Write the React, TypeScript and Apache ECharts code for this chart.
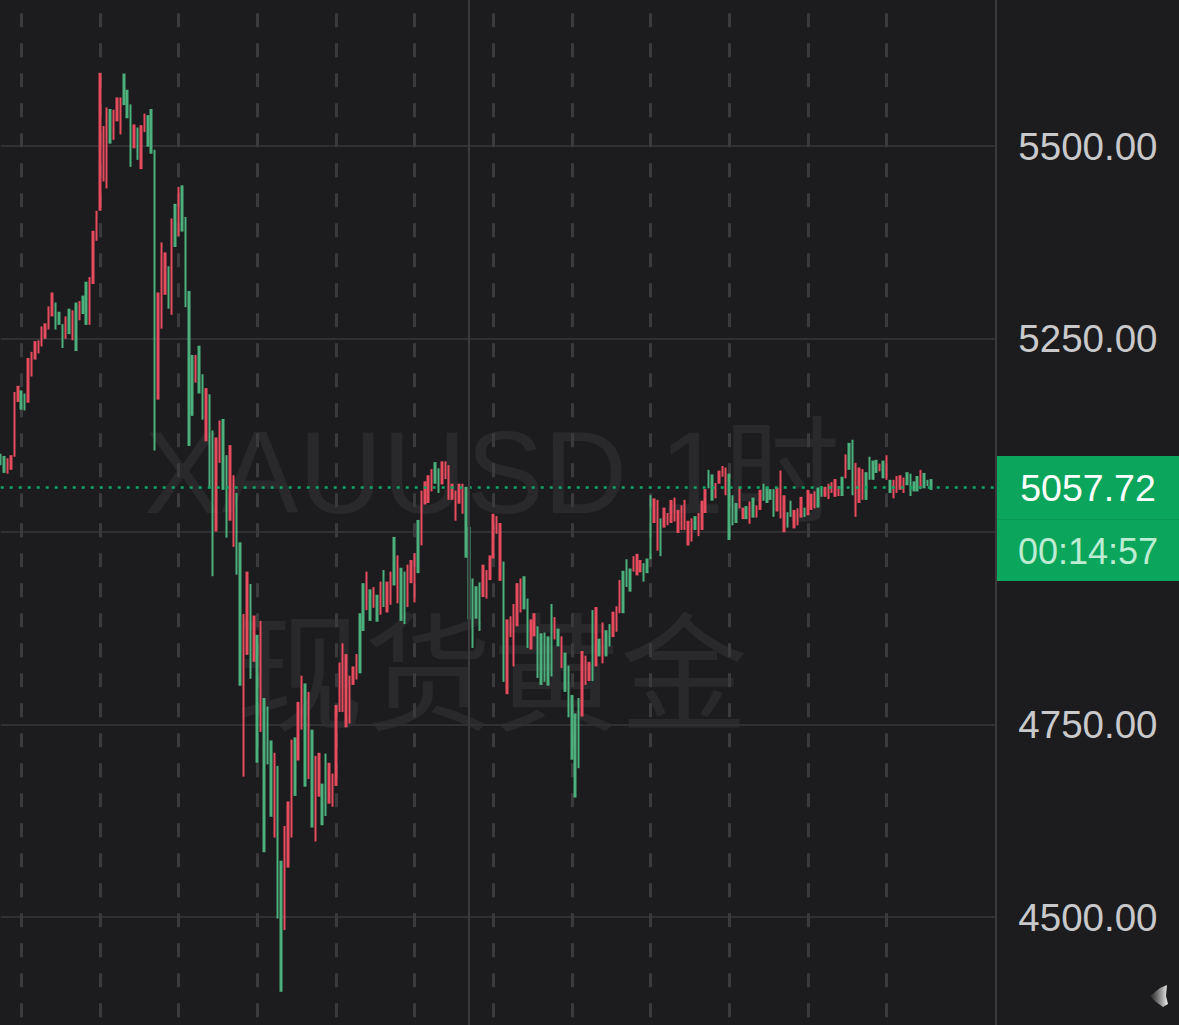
import React, { useEffect, useRef } from 'react';
import * as echarts from 'echarts';

// highest price of each hourly bar
const barHighs = [
    5101, 5098, 5095, 5099, 5181, 5189, 5183, 5179, 5225, 5233, 5247, 5248, 5266, 5270, 5292, 5310, 5297, 5285, 5269, 5279,
    5289, 5287, 5297, 5299, 5306, 5324, 5330, 5390, 5416, 5595, 5526, 5550, 5548, 5547, 5563, 5563, 5594, 5573, 5554, 5528,
    5524, 5527, 5542, 5540, 5548, 5495, 5310, 5375, 5362, 5344, 5406, 5425, 5447, 5449, 5408, 5312, 5229, 5229, 5241, 5204,
    5186, 5178, 5131, 5122, 5144, 5146, 5099, 5112, 5073, 5050, 4986, 4893, 4948, 4932, 4891, 4866, 4884, 4784, 4773, 4729,
    4713, 4696, 4573, 4618, 4650, 4730, 4733, 4779, 4813, 4803, 4792, 4743, 4709, 4713, 4673, 4712, 4700, 4686, 4775, 4830,
    4855, 4841, 4813, 4825, 4841, 4894, 4933, 4948, 4925, 4928, 4918, 4935, 4950, 4935, 4948, 4993, 4969, 4953, 4948, 4957,
    4963, 4972, 5015, 5053, 5065, 5073, 5081, 5090, 5082, 5091, 5091, 5086, 5062, 5053, 5062, 5062, 5058, 5006, 4939, 4929,
    4934, 4957, 4950, 4969, 5023, 5020, 5011, 4961, 4886, 4890, 4906, 4933, 4939, 4942, 4913, 4886, 4894, 4877, 4868, 4869,
    4864, 4906, 4889, 4874, 4864, 4843, 4826, 4788, 4764, 4784, 4845, 4839, 4831, 4898, 4902, 4861, 4882, 4872, 4880, 4896,
    4903, 4937, 4949, 4964, 4952, 4968, 4971, 4963, 4959, 4965, 5047, 5043, 5041, 5017, 5031, 5024, 5041, 5044, 5028, 5034,
    5041, 5014, 5017, 5020, 5024, 5040, 5055, 5080, 5074, 5063, 5079, 5085, 5083, 5075, 5047, 5037, 5058, 5031, 5033, 5039,
    5044, 5034, 5054, 5062, 5058, 5055, 5055, 5057, 5079, 5047, 5025, 5040, 5028, 5030, 5045, 5031, 5054, 5049, 5052, 5057,
    5059, 5058, 5062, 5064, 5068, 5059, 5071, 5100, 5115, 5119, 5089, 5083, 5081, 5077, 5097, 5092, 5093, 5088, 5092, 5099,
    5067, 5067, 5072, 5073, 5070, 5077, 5075, 5065, 5072, 5080, 5076, 5067, 5068
];

// lowest price of each bar
const barLows = [
    5086, 5076, 5075, 5080, 5097, 5168, 5158, 5157, 5167, 5201, 5223, 5231, 5240, 5250, 5262, 5279, 5262, 5268, 5238, 5250,
    5256, 5248, 5234, 5274, 5282, 5268, 5268, 5321, 5377, 5416, 5454, 5445, 5503, 5508, 5532, 5515, 5553, 5536, 5473, 5497,
    5482, 5470, 5518, 5499, 5490, 5105, 5171, 5263, 5307, 5289, 5281, 5369, 5383, 5389, 5291, 5111, 5150, 5193, 5179, 5145,
    5117, 5056, 4942, 5000, 5089, 5054, 4992, 5014, 4980, 4944, 4800, 4682, 4840, 4809, 4831, 4700, 4740, 4584, 4698, 4630,
    4603, 4498, 4403, 4483, 4564, 4603, 4657, 4703, 4743, 4669, 4679, 4616, 4598, 4656, 4619, 4631, 4647, 4643, 4670, 4766,
    4766, 4746, 4751, 4801, 4808, 4816, 4871, 4898, 4884, 4901, 4883, 4892, 4902, 4895, 4905, 4930, 4907, 4884, 4880, 4902,
    4933, 4908, 4946, 4982, 5035, 5037, 5052, 5062, 5050, 5061, 5068, 5041, 5041, 5014, 5036, 5023, 4966, 4886, 4849, 4887,
    4871, 4915, 4913, 4937, 4965, 4997, 4936, 4805, 4789, 4863, 4825, 4877, 4895, 4899, 4849, 4847, 4864, 4810, 4801, 4805,
    4800, 4812, 4860, 4851, 4823, 4792, 4759, 4704, 4655, 4693, 4760, 4801, 4806, 4806, 4825, 4838, 4829, 4838, 4851, 4863,
    4870, 4894, 4894, 4928, 4922, 4948, 4943, 4947, 4935, 4946, 4964, 5011, 4975, 4968, 5005, 5008, 5011, 5013, 4998, 5002,
    5002, 4982, 4987, 5002, 4994, 5002, 5024, 5056, 5040, 5043, 5062, 5071, 5047, 4989, 5008, 5011, 5030, 5016, 5016, 5010,
    5018, 5018, 5028, 5040, 5037, 5041, 5019, 5026, 5017, 4999, 5005, 5019, 5004, 5008, 5018, 5019, 5021, 5028, 5030, 5031,
    5045, 5045, 5042, 5050, 5045, 5046, 5046, 5069, 5080, 5047, 5019, 5037, 5041, 5041, 5067, 5067, 5076, 5078, 5069, 5067,
    5050, 5043, 5050, 5054, 5050, 5060, 5046, 5052, 5052, 5055, 5056, 5059, 5054
];

// R = rising bar, G = falling bar
const barDirections = [
    'GGRRRRGGRRRRRRRRGGGR', 'GRGRGGRRRRRRGRRRGGGR', 'GRRGGGRRRGRGRGGGGRGG', 'RGGRRGGRRGGRRGRGRGGG',
    'RGGRRRGRRGRGRRGGRRRR', 'RRRRRGGRGRGRGRRGRGGR', 'RRGRRRRGGRRRRRRRGGGG', 'GRRRRRRGRRRRRGGRRGGG',
    'GGRGRGGGGGRRRGRGRGGR', 'RRGGGRRRGGGRRGRRRRRR', 'RRRGRRRGGRRRRGGGRRGR', 'GRRGGGGRRRGGRRRGRRRG',
    'GRRRRRGRGGRRRGGGGRGR', 'GRRRRGGGGRGGGGRRRRGG', 'RRRGRRGRRRGGR'
].join('');

const lastPrice = 5057.72;
const countdown = '00:14:57';
const tickValues = [4250, 4500, 4750, 5000, 5250, 5500, 5750];
const tickLabels = ['4500.00', '4750.00', '5250.00', '5500.00'];
const slotCount = 292;
const dayStarts = [6, 29, 52, 75, 98, 121, 144, 167, 190, 213, 236, 259];
const weekStart = 137;
const slots = Array.from({ length: slotCount }, (_, i) => String(i));

const candles = barHighs.map((high, i) => {
    const low = barLows[i];
    return barDirections[i] === 'R' ? [low, high, low, high] : [high, low, low, high];
});

const FONT = '"Liberation Sans", Arial, sans-serif';

const App: React.FC = () => {
    const chartRef = useRef<HTMLDivElement>(null);

    useEffect(() => {
        if (!chartRef.current) return;

        const chart = echarts.init(chartRef.current, undefined, { renderer: 'svg' });

        chart.setOption({
            animation: false,
            backgroundColor: '#1c1c1e',
            grid: { left: 0.7, width: 995.2, top: -46.75, height: 1156.5, outerBoundsMode: 'none' },
            xAxis: {
                type: 'category',
                data: slots,
                boundaryGap: false,
                axisLine: { show: false },
                axisTick: { show: false },
                axisLabel: { show: false },
                splitLine: {
                    show: true,
                    interval: (index: number) => dayStarts.includes(index),
                    lineStyle: { color: '#3a3a3c', width: 3, type: [14, 16] }
                }
            },
            yAxis: {
                type: 'value',
                position: 'right',
                min: tickValues[0],
                max: tickValues[tickValues.length - 1],
                interval: 250,
                axisLine: { show: true, lineStyle: { color: '#3a3a3c', width: 2 } },
                axisTick: { show: false },
                axisLabel: {
                    margin: 92,
                    align: 'center',
                    color: '#c9c9cb',
                    fontFamily: FONT,
                    fontSize: 38.5,
                    formatter: (value: number) => {
                        const label = value.toFixed(2);
                        return tickLabels.includes(label) ? label : '';
                    }
                },
                splitLine: { show: true, lineStyle: { color: '#303032', width: 2 } }
            },
            graphic: [
                {
                    type: 'text',
                    z: -1,
                    x: 492,
                    y: 473,
                    style: {
                        text: 'XAUUSD 1时',
                        fill: '#29292b',
                        font: '116px "Liberation Sans", "Noto Sans CJK SC", sans-serif',
                        textAlign: 'center',
                        textVerticalAlign: 'middle'
                    }
                },
                {
                    type: 'text',
                    z: -1,
                    x: 492,
                    y: 665,
                    style: {
                        text: '现货黄金',
                        fill: '#29292b',
                        font: '128px "Noto Sans CJK SC", sans-serif',
                        textAlign: 'center',
                        textVerticalAlign: 'middle'
                    }
                },
                {
                    type: 'rect',
                    z: 10,
                    shape: { x: 997, y: 456, width: 182, height: 125 },
                    style: { fill: '#0ba55c' }
                },
                {
                    type: 'rect',
                    z: 11,
                    shape: { x: 997, y: 519, width: 182, height: 1 },
                    style: { fill: '#099a55' }
                },
                {
                    type: 'text',
                    z: 12,
                    x: 1088,
                    y: 488,
                    style: {
                        text: lastPrice.toFixed(2),
                        fill: '#ffffff',
                        font: `37.5px ${FONT}`,
                        textAlign: 'center',
                        textVerticalAlign: 'middle'
                    }
                },
                {
                    type: 'text',
                    z: 12,
                    x: 1088,
                    y: 551,
                    style: {
                        text: countdown,
                        fill: '#bdecd2',
                        font: `36px ${FONT}`,
                        textAlign: 'center',
                        textVerticalAlign: 'middle'
                    }
                },
                {
                    type: 'polygon',
                    z: 12,
                    shape: {
                        points: [[1167, 985], [1160, 988], [1150, 996], [1156, 1002], [1163, 1007], [1168, 1004], [1166, 996]]
                    },
                    style: {
                        fill: new echarts.graphic.LinearGradient(0, 0, 1, 0, [
                            { offset: 0, color: 'rgba(200, 200, 200, 0.05)' },
                            { offset: 1, color: 'rgba(240, 240, 240, 1)' }
                        ])
                    }
                }
            ],
            series: [
                {
                    type: 'candlestick',
                    clip: false,
                    barWidth: 3,
                    itemStyle: {
                        color: '#e64c5e',
                        color0: '#4cb07c',
                        borderColor: '#e64c5e',
                        borderColor0: '#4cb07c',
                        borderWidth: 0
                    },
                    data: candles,
                    markLine: {
                        silent: true,
                        symbol: 'none',
                        label: { show: false },
                        data: [
                            {
                                yAxis: lastPrice,
                                lineStyle: { color: '#0ea765', width: 2.5, type: [3, 6], opacity: 1 }
                            },
                            {
                                xAxis: weekStart,
                                lineStyle: { color: '#3a3a3c', width: 2, type: 'solid', opacity: 1 }
                            }
                        ]
                    }
                }
            ]
        });

        return () => {
            chart.dispose();
        };
    }, []);

    return <div ref={chartRef} style={{ position: 'absolute', left: 0, top: 0, width: 1179, height: 1025 }} />;
};

export default App;
